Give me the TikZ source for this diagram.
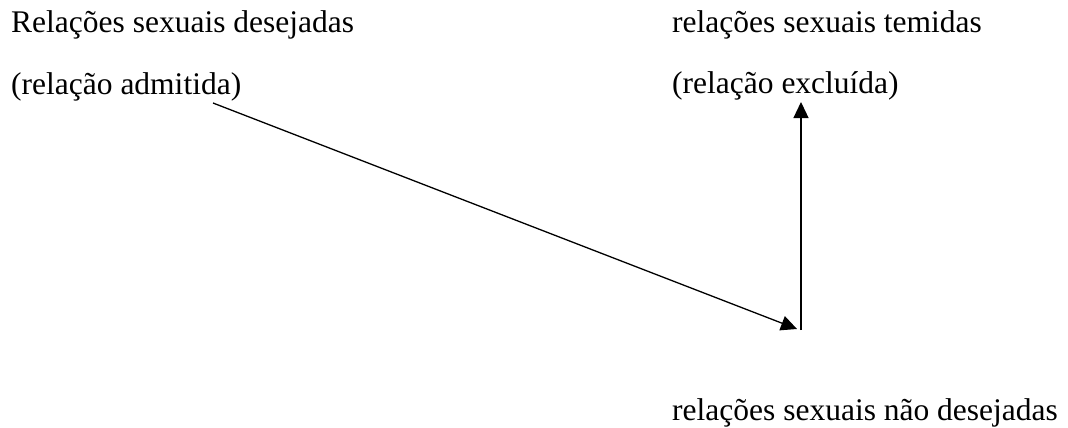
\documentclass[tikz,border=0pt]{standalone}
\usepackage{fontspec}
\setmainfont{Liberation Serif}
\usetikzlibrary{arrows.meta}

\begin{document}
\begin{tikzpicture}[x=1pt,y=-1pt,
  rotulo/.style={anchor=base west,inner sep=0pt,font=\fontsize{31.5}{36}\selectfont},
  seta/.style={-{Triangle[length=16pt,width=15pt]},line width=1.3pt}]
\useasboundingbox (0,0) rectangle (1068,428);
\node[rotulo] (desejadas) at (11,33) {Relações sexuais desejadas};
\node[rotulo] (admitida) at (11,94) {(relação admitida)};
\node[rotulo] (temidas) at (672,33) {relações sexuais temidas};
\node[rotulo] (excluida) at (672,93) {(relação excluída)};
\node[rotulo] (naodesejadas) at (672,420) {relações sexuais não desejadas};
\coordinate (inicio) at (213,103);
\coordinate (fim) at (797,329);
\coordinate (base) at (801,330);
\coordinate (topo) at (801,102);
\draw[seta] (inicio) -- (fim);
\draw[seta] (base) -- (topo);
\end{tikzpicture}
\end{document}
